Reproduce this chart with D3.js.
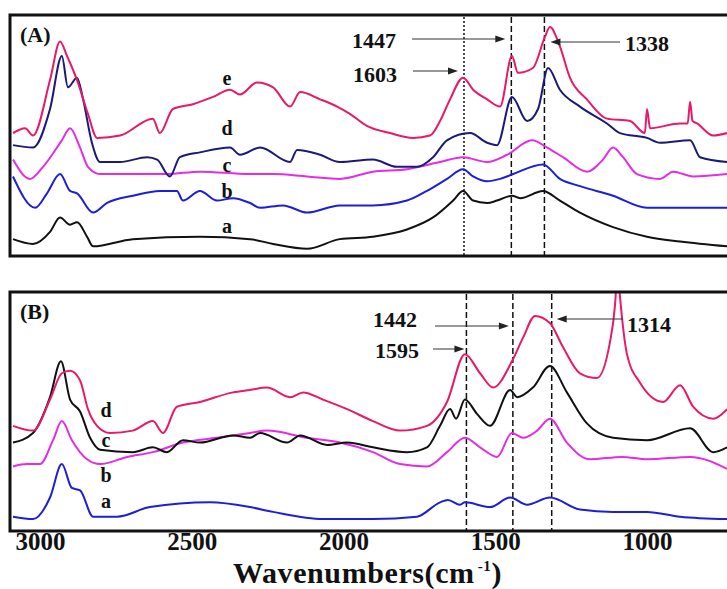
<!DOCTYPE html>
<html>
<head>
<meta charset="utf-8">
<script src="https://cdn.jsdelivr.net/npm/d3@7/dist/d3.min.js"></script>
<style>
  body { margin: 0; background: #fff; }
  text { font-family: "Liberation Serif", "Times New Roman", serif; font-weight: bold; fill: #111; }
</style>
</head>
<body>
<svg id="chart" width="727" height="589"></svg>
<script>
// x ticks
var xTicks = [3000, 2500, 2000, 1500, 1000];

// panel (A) - peak positions and spectra a..e
var peaksA = [1603, 1447, 1338];
var waveAe = [3089,3049,3023,2967,2934,2911,2878,2842,2812,2736,2628,2605,2562,2496,2430,2374,2341,2285,2232,2176,2143,2077,2021,1979,1923,1847,1771,1715,1682,1649,1606,1573,1527,1484,1445,1425,1376,1336,1320,1287,1254,1198,1132,1056,1007,1000,990,891,866,858,850,835,782,736];
var intAe  = [51,53,50,73,89,83,73,59,49,50,57,51,61,63,66,69,67,72,70,62,68,65,62,59,54,51,49,50,56,65,74,69,65,62,83,76,78,91,95,87,74,65,57,56,51,61,53,55,55,64,56,55,50,51];
var waveAd = [3089,3023,2967,2928,2908,2878,2858,2829,2802,2736,2647,2614,2572,2539,2473,2374,2341,2275,2176,2153,2077,2012,1903,1824,1758,1705,1659,1583,1527,1494,1445,1395,1359,1326,1287,1221,1132,1089,1000,957,858,825,736];
var intAd  = [46,45,61,83,70,74,65,47,39,39,41,40,33,41,43,45,42,45,39,44,42,39,40,37,37,41,48,51,47,46,66,56,61,78,69,62,55,51,49,47,48,41,39];
var waveAc = [3089,3033,2990,2928,2901,2868,2842,2802,2694,2582,2473,2308,2232,2120,2012,1903,1791,1682,1606,1527,1461,1379,1329,1277,1198,1145,1112,1079,1033,957,914,848,736];
var intAc  = [40,32,37,48,53,45,37,34,34,34,35,34,34,33,32,35,36,39,41,39,42,48,45,41,35,40,45,41,34,32,35,33,34];
var waveAb = [3089,3016,2977,2934,2901,2878,2825,2779,2694,2605,2549,2529,2473,2417,2364,2308,2275,2199,2120,2012,1903,1791,1725,1659,1606,1573,1527,1484,1441,1343,1287,1221,1112,1000,891,736];
var intAb  = [33,20,26,34,27,26,18,22,25,27,27,23,27,23,24,22,20,21,18,21,21,23,27,32,36,33,31,32,34,38,32,29,25,20,20,20];
var waveAa = [3089,3023,2967,2934,2901,2878,2845,2825,2694,2473,2308,2232,2120,2012,1903,1791,1705,1639,1606,1573,1527,1494,1445,1418,1343,1287,1221,1112,1000,891,736];
var intAa  = [7,5,10,16,13,14,8,4,7,8,7,5,3,7,8,11,16,23,27,23,22,23,25,24,27,23,18,12,8,6,4];

// panel (B) - peak positions and spectra a..d
var peaksB = [1595, 1442, 1314];
var waveBd = [3089,3023,2967,2928,2901,2868,2842,2812,2769,2694,2628,2595,2549,2473,2364,2308,2252,2176,2133,2068,1988,1903,1814,1725,1659,1600,1550,1507,1445,1408,1369,1320,1277,1221,1165,1122,1105,1097,1089,1066,1023,947,891,848,782,736];
var intBd  = [44,42,55,66,67,63,51,44,41,42,46,41,52,54,58,59,60,56,58,55,51,46,42,44,54,74,66,60,71,81,90,87,77,66,64,79,95,110,98,74,62,54,61,52,47,51];
var waveBc = [3089,3023,2967,2931,2901,2868,2835,2802,2694,2628,2582,2529,2473,2364,2308,2275,2186,2143,2054,1988,1903,1791,1725,1682,1649,1629,1600,1560,1517,1451,1428,1376,1320,1264,1198,1112,1000,858,782,736];
var intBc  = [37,41,56,71,55,50,39,34,33,35,33,38,37,40,39,41,37,40,36,37,35,33,35,44,51,47,55,49,44,59,56,60,69,58,45,39,38,43,33,35];
var waveBb = [3089,3043,3000,2957,2928,2895,2845,2802,2713,2628,2529,2417,2308,2252,2120,2012,1903,1814,1725,1659,1600,1550,1494,1445,1408,1362,1320,1264,1188,1082,1000,858,736];
var intBb  = [27,28,28,38,46,38,30,28,31,33,37,39,41,42,39,37,33,28,27,33,39,35,31,41,39,42,47,37,30,31,30,31,26];
var waveBa = [3089,3023,2967,2928,2895,2868,2825,2746,2638,2440,2308,2232,2068,1903,1758,1682,1656,1616,1600,1517,1451,1395,1320,1221,1112,1000,891,736];
var intBa  = [6,5,14,28,18,17,6,6,10,12,10,8,5,5,6,12,13,11,12,10,14,11,14,9,8,8,6,5];

var CRIMSON = '#e8196a', NAVY = '#1a1a78', MAGENTA = '#e52ce5', BLUE = '#1e1ed8', BLACK = '#111';

var svg = d3.select('#chart');
var x = d3.scaleLinear().domain([3000, 1000]).range([40, 647]);

function zip(w, v) {
  return w.map(function(d, i) { return [d, v[i]]; });
}

function drawPanel(opts) {
  var y = d3.scaleLinear().domain([0, 100]).range([opts.bottom, opts.top]);
  var g = svg.append('g');

  g.append('clipPath').attr('id', opts.id + '-clip')
    .append('rect')
    .attr('x', 11).attr('y', opts.top + 1)
    .attr('width', 760).attr('height', opts.bottom - opts.top - 2);

  // vertical marker lines at peaks
  g.selectAll('line.peak').data(opts.peaks).enter().append('line')
    .attr('class', 'peak')
    .attr('x1', function(d) { return x(d); }).attr('x2', function(d) { return x(d); })
    .attr('y1', opts.top + 2).attr('y2', opts.bottom)
    .attr('stroke', '#111').attr('stroke-width', 1.5)
    .attr('stroke-dasharray', function(d, i) { return opts.dash[i]; });

  var line = d3.line()
    .x(function(d) { return x(d[0]); })
    .y(function(d) { return y(d[1]); })
    .curve(d3.curveMonotoneX);

  g.append('g').attr('clip-path', 'url(#' + opts.id + '-clip)')
    .selectAll('path').data(opts.series).enter().append('path')
    .attr('d', function(s) { return line(zip(s.wave, s.vals)); })
    .attr('fill', 'none')
    .attr('stroke', function(s) { return s.color; })
    .attr('stroke-width', 2)
    .attr('stroke-linejoin', 'round');

  // frame
  g.append('rect')
    .attr('x', 10).attr('y', opts.top)
    .attr('width', 760).attr('height', opts.bottom - opts.top)
    .attr('fill', 'none').attr('stroke', '#111').attr('stroke-width', 3);

  g.append('text').attr('x', 20).attr('y', opts.top + 27)
    .style('font-size', '22px').text(opts.title);

  g.selectAll('text.lab').data(opts.series).enter().append('text')
    .attr('class', 'lab')
    .attr('x', opts.labX).attr('y', function(s) { return s.labY; })
    .attr('text-anchor', 'middle')
    .style('font-size', '20px')
    .text(function(s) { return s.name; });

  // peak annotations with arrows
  opts.notes.forEach(function(n) {
    g.append('text').attr('x', n.tx).attr('y', n.ty)
      .style('font-size', '22px').text(n.label);
    var tip = x(n.label) + n.off;
    var dir = n.from < tip ? 1 : -1;
    g.append('line')
      .attr('x1', n.from).attr('x2', tip - dir * 8)
      .attr('y1', n.ay).attr('y2', n.ay)
      .attr('stroke', '#333').attr('stroke-width', 1);
    g.append('path')
      .attr('d', 'M' + tip + ',' + n.ay + 'L' + (tip - dir * 10) + ',' + (n.ay - 3.5) +
                 'L' + (tip - dir * 10) + ',' + (n.ay + 3.5) + 'Z')
      .attr('fill', '#222');
  });
}

drawPanel({
  id: 'pa', title: '(A)', top: 15, bottom: 256, peaks: peaksA,
  dash: ['2,2', '6,3', '6,3'], labX: 227,
  series: [
    {name: 'a', wave: waveAa, vals: intAa, color: BLACK, labY: 233},
    {name: 'b', wave: waveAb, vals: intAb, color: BLUE, labY: 198},
    {name: 'c', wave: waveAc, vals: intAc, color: MAGENTA, labY: 172},
    {name: 'd', wave: waveAd, vals: intAd, color: NAVY, labY: 135},
    {name: 'e', wave: waveAe, vals: intAe, color: CRIMSON, labY: 85}
  ],
  notes: [
    {label: 1447, tx: 352, ty: 48, from: 412, ay: 39, off: -6},
    {label: 1603, tx: 353, ty: 82, from: 413, ay: 71, off: -6},
    {label: 1338, tx: 625, ty: 51, from: 620, ay: 42, off: 6}
  ]
});

drawPanel({
  id: 'pb', title: '(B)', top: 292, bottom: 531, peaks: peaksB,
  dash: ['6,3', '6,3', '6,3'], labX: 106,
  series: [
    {name: 'a', wave: waveBa, vals: intBa, color: BLUE, labY: 508},
    {name: 'b', wave: waveBb, vals: intBb, color: MAGENTA, labY: 482},
    {name: 'c', wave: waveBc, vals: intBc, color: BLACK, labY: 447},
    {name: 'd', wave: waveBd, vals: intBd, color: CRIMSON, labY: 417}
  ],
  notes: [
    {label: 1442, tx: 373, ty: 327, from: 435, ay: 326, off: -4},
    {label: 1595, tx: 375, ty: 358, from: 433, ay: 349, off: -2},
    {label: 1314, tx: 627, ty: 332, from: 623, ay: 319, off: 5}
  ]
});

// x axis under panel B
var axis = svg.append('g')
  .attr('transform', 'translate(0,531)')
  .call(d3.axisBottom(x).tickValues(xTicks).tickSize(0).tickPadding(1).tickFormat(d3.format('d')));
axis.select('.domain').remove();
axis.selectAll('text')
  .style('font-family', '"Liberation Serif", "Times New Roman", serif')
  .style('font-weight', 'bold')
  .style('font-size', '25px')
  .attr('fill', '#111');

var title = svg.append('text').attr('x', 233).attr('y', 582.5)
  .style('font-size', '30px').style('letter-spacing', '0.6px');
title.append('tspan').text('Wavenumbers(cm');
title.append('tspan').attr('dx', 3).attr('dy', -12).style('font-size', '15px').text('-1');
title.append('tspan').attr('dy', 12).text(')');
</script>
</body>
</html>
